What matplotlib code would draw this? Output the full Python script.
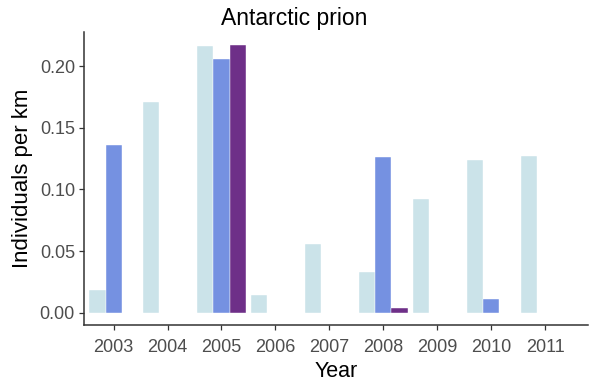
import numpy as np
import matplotlib
matplotlib.use("Agg")
import matplotlib.pyplot as plt

plt.rcParams['font.family'] = ['Liberation Sans', 'DejaVu Sans']

years = [2003, 2004, 2005, 2006, 2007, 2008, 2009, 2010, 2011]
# three survey groups per year (NaN = no bar)
light = [0.0184, 0.171, 0.216, 0.0146, 0.0557, 0.0328, 0.092, 0.1236, 0.1273]
medium = [0.1357, np.nan, 0.206, np.nan, np.nan, 0.126, np.nan, 0.0109, np.nan]
purple = [np.nan, np.nan, 0.217, np.nan, np.nan, 0.0036, np.nan, np.nan, np.nan]

colors = ['#CBE3E9', '#7591E1', '#6E2F88']
series = [light, medium, purple]

fig = plt.figure(figsize=(5.96, 3.85), dpi=100)
ax = fig.add_axes([0.1409, 0.1558, 0.846, 0.7611])

w = 0.3
x = np.array(years)
for i, (vals, c) in enumerate(zip(series, colors)):
    ax.bar(x + (i - 1) * w, vals, width=w, color=c, edgecolor='white', linewidth=0.3)

ax.set_xlim(2002.45, 2011.8)
ax.set_ylim(-0.01, 0.2276)
ax.set_xticks(years)
ax.set_yticks([0, 0.05, 0.10, 0.15, 0.20])
ax.set_yticklabels(['0.00', '0.05', '0.10', '0.15', '0.20'])

for s in ['top', 'right']:
    ax.spines[s].set_visible(False)
for s in ['left', 'bottom']:
    ax.spines[s].set_color('#333333')
    ax.spines[s].set_linewidth(1.1)

ax.tick_params(colors='#333333', labelcolor='#4D4D4D', labelsize=13, length=3.5, width=0.9, pad=3)
ax.tick_params(axis='x', pad=6.5)
ax.set_xlabel('Year', fontsize=15.5, color='black', labelpad=4)
ax.set_ylabel('Individuals per km', fontsize=16, color='black', labelpad=5)
fig.suptitle('Antarctic prion', x=294 / 596, y=0.982, fontsize=16.5)

fig.savefig('out.png', dpi=100)
